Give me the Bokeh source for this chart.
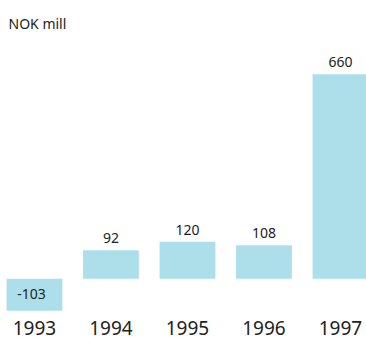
from bokeh.plotting import figure
from bokeh.models import Range1d, ColumnDataSource
from bokeh.core.properties import value
from bokeh.embed import file_html
from bokeh.resources import INLINE

years = ["1993", "1994", "1995", "1996", "1997"]
results = [-103, 92, 120, 108, 660]
unit_label = "NOK mill"

bar_color = "#ADDFEB"
text_color = "#222222"
font = "Noto Sans"

xs = list(range(len(years)))
pos_idx = [i for i, v in enumerate(results) if v >= 0]
neg_idx = [i for i, v in enumerate(results) if v < 0]

src = ColumnDataSource(dict(x=xs, top=results))
pos_src = ColumnDataSource(dict(x=[xs[i] for i in pos_idx], y=[results[i] for i in pos_idx],
                                t=[str(results[i]) for i in pos_idx]))
neg_src = ColumnDataSource(dict(x=[xs[i] for i in neg_idx], y=[results[i] for i in neg_idx],
                                t=[str(results[i]) for i in neg_idx]))

p = figure(width=366, height=337, output_backend="svg", toolbar_location=None,
           x_range=Range1d(-0.444, 4.34), y_range=Range1d(-124.6, 794.5),
           y_axis_location=None, min_border_left=0, min_border_right=0,
           min_border_top=32, min_border_bottom=0, title=unit_label)

p.title.text_font = font
p.title.text_font_size = "14px"
p.title.text_font_style = "normal"
p.title.text_color = text_color
p.title.offset = 8
p.title.standoff = 0

p.vbar(x="x", top="top", bottom=0, width=0.73, source=src, fill_color=bar_color, line_color=None)

p.text(x="x", y="y", text="t", source=pos_src, text_align="center", text_baseline="alphabetic",
       y_offset=-12, text_font=value(font), text_font_size="14px", text_color=text_color)
p.text(x="x", y="y", text="t", source=neg_src, text_align="center", text_baseline="alphabetic",
       y_offset=-17, x_offset=-3, text_font=value(font), text_font_size="14px", text_color=text_color)

p.xaxis.ticker = xs
p.xaxis.major_label_overrides = {i: y for i, y in zip(xs, years)}
p.xaxis.axis_line_color = None
p.xaxis.major_tick_line_color = None
p.xaxis.minor_tick_line_color = None
p.xaxis.major_tick_in = 0
p.xaxis.major_tick_out = 0
p.xaxis.major_label_text_font = font
p.xaxis.major_label_text_font_size = "19px"
p.xaxis.major_label_text_color = text_color
p.xaxis.major_label_standoff = 3

p.xgrid.visible = False
p.ygrid.visible = False
p.outline_line_color = None
p.background_fill_color = "white"
p.border_fill_color = "white"

open("out.html", "w").write(file_html(p, INLINE))
